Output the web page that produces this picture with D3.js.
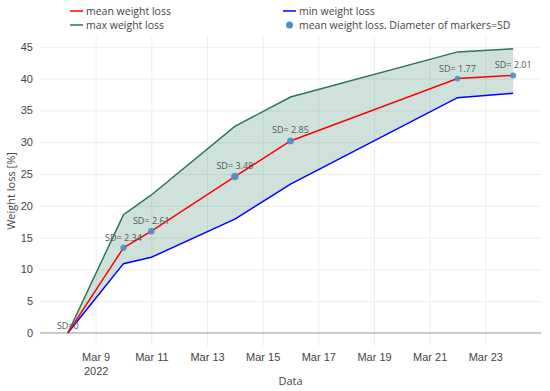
<!DOCTYPE html>
<html lang="en">
<head>
<meta charset="UTF-8" />
<title>Weight loss</title>
<script src="https://d3js.org/d3.v7.min.js"></script>
<style>
  body { margin: 0; background: #fff; font-family: 'Open Sans', sans-serif; }
  svg { display: block; }
  text { fill: #444; }
  .grid line { stroke: #eee; }
  .grid path { stroke-width: 0; }
  .axis path, .axis line { stroke: none; }
  .axis text { font-size: 11px; fill: #444; }
  .sd { font-size: 9px; fill: #555; }
  .legend text { font-size: 10.5px; fill: #444; }
</style>
</head>
<body>
<svg width="550" height="391"></svg>
<script>
  // days of March 2022
  var days = [8, 10, 11, 14, 16, 22, 24];
  var meanLoss = [0, 13.4, 16.0, 24.6, 30.2, 40.0, 40.5];
  var minLoss = [0, 10.9, 11.9, 17.9, 23.4, 37.0, 37.7];
  var maxLoss = [0, 18.6, 21.7, 32.5, 37.1, 44.2, 44.7];
  var sdValues = [0, 2.34, 2.61, 3.48, 2.85, 1.77, 2.01];
  var yTicks = [0, 5, 10, 15, 20, 25, 30, 35, 40, 45];
  var xTickDays = [9, 11, 13, 15, 17, 19, 21, 23];

  var dates = days.map(d => new Date(2022, 2, d));
  var rows = dates.map((d, i) => ({
    date: d, mean: meanLoss[i], min: minLoss[i], max: maxLoss[i], sd: sdValues[i]
  }));

  const svg = d3.select('svg');
  const plotLeft = 40, plotRight = 541, plotTop = 36, plotBottom = 346;

  const x = d3.scaleTime()
    .domain([new Date(2022, 2, 7), new Date(2022, 2, 25)])
    .range([plotLeft, plotRight]);
  const y = d3.scaleLinear()
    .domain([-2.05, 46.7])
    .range([plotBottom, plotTop]);

  const maxColor = '#2c7658';
  const fillColor = 'rgba(44,125,98,0.23)';
  // marker radius grows with SD (0 -> hidden)
  const rSD = sd => sd === 0 ? 0 : 2 + sd * 0.5;

  // grid
  svg.append('g')
    .attr('class', 'grid')
    .attr('transform', `translate(0, ${plotBottom})`)
    .call(d3.axisBottom(x)
      .tickValues(xTickDays.map(d => new Date(2022, 2, d)))
      .tickSize(-(plotBottom - plotTop))
      .tickFormat(''));

  svg.append('g')
    .attr('class', 'grid')
    .attr('transform', `translate(${plotLeft}, 0)`)
    .call(d3.axisLeft(y)
      .tickValues(yTicks.filter(t => t !== 0))
      .tickSize(-(plotRight - plotLeft))
      .tickFormat(''));

  // zero line
  svg.append('line')
    .attr('x1', plotLeft).attr('x2', plotRight)
    .attr('y1', y(0)).attr('y2', y(0))
    .attr('stroke', '#999').attr('stroke-width', 1);

  // band between min and max
  svg.append('path')
    .datum(rows)
    .attr('fill', fillColor)
    .attr('d', d3.area()
      .x(d => x(d.date))
      .y0(d => y(d.min))
      .y1(d => y(d.max)));

  const line = key => d3.line().x(d => x(d.date)).y(d => y(d[key]));

  svg.append('path').datum(rows)
    .attr('fill', 'none').attr('stroke', maxColor).attr('stroke-width', 1.5)
    .attr('d', line('max'));
  svg.append('path').datum(rows)
    .attr('fill', 'none').attr('stroke', '#0000ff').attr('stroke-width', 1.5)
    .attr('d', line('min'));
  svg.append('path').datum(rows)
    .attr('fill', 'none').attr('stroke', '#ff0000').attr('stroke-width', 1.5)
    .attr('d', line('mean'));

  // markers
  svg.append('g').selectAll('circle')
    .data(rows)
    .enter()
    .append('circle')
    .attr('cx', d => x(d.date))
    .attr('cy', d => y(d.mean))
    .attr('r', d => rSD(d.sd))
    .attr('fill', '#4b8fca')
    .attr('opacity', 0.9);

  svg.append('g').selectAll('text')
    .data(rows)
    .enter()
    .append('text')
    .attr('class', 'sd')
    .attr('x', d => x(d.date))
    .attr('y', d => y(d.mean) - 4 - rSD(d.sd))
    .attr('text-anchor', 'middle')
    .text(d => d.sd === 0 ? 'SD=0' : 'SD= ' + d.sd);

  // axes labels
  svg.append('g')
    .attr('class', 'axis')
    .attr('transform', `translate(${plotLeft - 5}, 0)`)
    .call(d3.axisLeft(y).tickValues(yTicks).tickSize(0).tickPadding(2));

  const xAxis = svg.append('g')
    .attr('class', 'axis')
    .attr('transform', `translate(0, ${plotBottom})`)
    .call(d3.axisBottom(x)
      .tickValues(xTickDays.map(d => new Date(2022, 2, d)))
      .tickSize(0).tickPadding(7)
      .tickFormat(d3.timeFormat('Mar %-d')));

  xAxis.selectAll('.tick')
    .filter((d, i) => i === 0)
    .append('text')
    .attr('y', 21)
    .attr('dy', '0.71em')
    .attr('text-anchor', 'middle')
    .style('font-size', '11px')
    .attr('fill', '#444')
    .text('2022');

  svg.append('text')
    .attr('x', (plotLeft + plotRight) / 2)
    .attr('y', 385)
    .attr('text-anchor', 'middle')
    .style('font-size', '11px')
    .text('Data');

  svg.append('text')
    .attr('transform', `translate(15, ${(plotTop + plotBottom) / 2}) rotate(-90)`)
    .attr('text-anchor', 'middle')
    .style('font-size', '11px')
    .text('Weight loss [%]');

  // legend
  var legendNames = ['mean weight loss', 'min weight loss', 'max weight loss', 'mean weight loss. Diameter of markers=SD'];
  var legendColors = ['#ff0000', '#0000ff', maxColor, '#4b8fca'];
  var legendX = [70, 283, 70, 283];
  var legendY = [11, 11, 25, 25];

  const legend = svg.append('g').attr('class', 'legend')
    .selectAll('g')
    .data(legendNames)
    .enter()
    .append('g')
    .attr('transform', (d, i) => `translate(${legendX[i]}, ${legendY[i]})`);

  legend.filter((d, i) => i < 3)
    .append('line')
    .attr('x1', 0).attr('x2', 13)
    .attr('stroke', (d, i) => legendColors[i])
    .attr('stroke-width', 1.5);

  legend.filter((d, i) => i === 3)
    .append('circle')
    .attr('cx', 6.5).attr('r', 3.5)
    .attr('fill', legendColors[3]);

  legend.append('text')
    .attr('x', 16)
    .attr('dy', '0.35em')
    .text(d => d);
</script>
</body>
</html>
